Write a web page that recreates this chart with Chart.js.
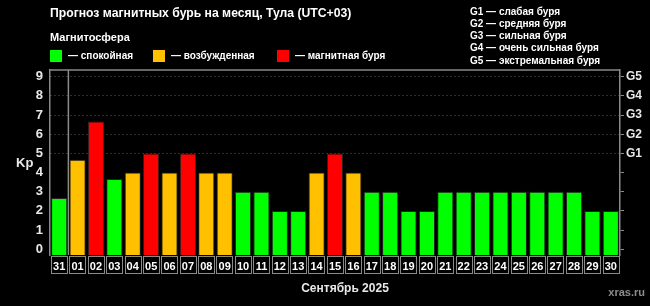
<!DOCTYPE html>
<html>
<head>
<meta charset="utf-8">
<script src="https://cdn.jsdelivr.net/npm/chart.js@4/dist/chart.umd.min.js"></script>
<style>
  html, body { margin: 0; padding: 0; background: #000; }
  #wrap { width: 650px; height: 306px; }
</style>
</head>
<body>
<div id="wrap"><canvas id="kp" width="650" height="306"></canvas></div>
<script>
// --- data ---
const days = ['31','01','02','03','04','05','06','07','08','09','10','11','12','13','14','15',
              '16','17','18','19','20','21','22','23','24','25','26','27','28','29','30'];
const kpValues = [2.67, 4.67, 6.67, 3.67, 4, 5, 4, 5, 4, 4, 3, 3, 2, 2, 4, 5,
                  4, 3, 3, 2, 2, 3, 3, 3, 3, 3, 3, 3, 3, 2, 2];
const kpTicks = [0, 1, 2, 3, 4, 5, 6, 7, 8, 9];
const gLabels = ['G1', 'G2', 'G3', 'G4', 'G5'];
const gLegend = ['G1 — слабая буря', 'G2 — средняя буря', 'G3 — сильная буря',
                 'G4 — очень сильная буря', 'G5 — экстремальная буря'];
const stateLegend = ['— спокойная', '— возбужденная', '— магнитная буря'];

const Y_MIN = -0.3, Y_MAX = 9.35;
const GREEN = '#00ff00', ORANGE = '#ffc000', RED = '#ff0000';
const FRAME = '#8a8a8a';
const FONT = '"Liberation Sans", Arial, sans-serif';

// bar colour by Kp level
const colorFor = v => v >= 5 ? RED : (v >= 4 ? ORANGE : GREEN);

const decorPlugin = {
    id: 'decor',
    beforeDatasetsDraw: (chart) => {
        const { ctx, chartArea: a, scales: { x } } = chart;
        ctx.save();
        // separator between previous month and current one
        const sx = (x.getPixelForValue(0) + x.getPixelForValue(1)) / 2;
        ctx.strokeStyle = FRAME;
        ctx.lineWidth = 1.5;
        ctx.beginPath();
        ctx.moveTo(sx, a.top);
        ctx.lineTo(sx, a.bottom);
        ctx.stroke();
        ctx.restore();
    },
    afterDraw: (chart) => {
        const { ctx, chartArea: a, scales: { x } } = chart;
        ctx.save();
        // top frame line
        ctx.strokeStyle = FRAME;
        ctx.lineWidth = 1.5;
        ctx.beginPath();
        ctx.moveTo(a.left, a.top);
        ctx.lineTo(a.right, a.top);
        ctx.stroke();

        // boxes round day labels
        const slot = x.getPixelForValue(1) - x.getPixelForValue(0);
        ctx.lineWidth = 1;
        days.forEach((d, i) => {
            const cx = x.getPixelForValue(i);
            ctx.strokeRect(Math.round(cx - slot / 2) + 1.5, a.bottom + 1.5, Math.round(slot) - 2, 17);
        });

        // header texts
        ctx.fillStyle = '#ffffff';
        ctx.textBaseline = 'middle';
        ctx.textAlign = 'left';
        ctx.font = 'bold 12.2px ' + FONT;
        ctx.fillText('Прогноз магнитных бурь на месяц, Тула (UTC+03)', 50, 14);
        ctx.font = 'bold 11px ' + FONT;
        ctx.fillText('Магнитосфера', 50, 38);

        ctx.font = 'bold 10px ' + FONT;
        const swatchX = [50, 153, 277];
        const swatchC = [GREEN, ORANGE, RED];
        stateLegend.forEach((t, i) => {
            ctx.fillStyle = swatchC[i];
            ctx.fillRect(swatchX[i], 50, 12, 12);
            ctx.fillStyle = '#ffffff';
            ctx.fillText(t, swatchX[i] + 18, 56.5);
        });

        gLegend.forEach((t, i) => {
            ctx.fillText(t, 470, 12 + i * 12.2);
        });

        // axis captions
        ctx.font = 'bold 13px ' + FONT;
        ctx.fillStyle = '#e8e8e8';
        ctx.fillText('Kp', 16, 163);
        ctx.font = 'bold 12px ' + FONT;
        ctx.textAlign = 'center';
        ctx.fillText('Сентябрь 2025', 345, 289);
        ctx.font = 'bold 11px ' + FONT;
        ctx.fillStyle = '#8c8c8c';
        ctx.textAlign = 'right';
        ctx.fillText('xras.ru', 645, 293);
        ctx.restore();
    }
};

const fixTicks = (scale) => { scale.ticks = kpTicks.map(v => ({ value: v })); };

new Chart(document.getElementById('kp'), {
    type: 'bar',
    data: {
        labels: days,
        datasets: [{
            data: kpValues,
            base: Y_MIN,
            backgroundColor: kpValues.map(colorFor),
            borderColor: 'rgba(40,40,40,0.9)',
            borderWidth: 1,
            barPercentage: 0.88,
            categoryPercentage: 1.0
        }]
    },
    options: {
        responsive: false,
        animation: false,
        layout: { padding: { top: 70, left: 0, right: 0, bottom: 0 } },
        plugins: { legend: { display: false }, tooltip: { enabled: false } },
        scales: {
            x: {
                afterFit: (s) => { s.height = 51; },
                grid: { display: false, drawTicks: false },
                border: { display: false },
                ticks: {
                    autoSkip: false, maxRotation: 0, padding: 5,
                    color: '#ffffff',
                    font: { family: FONT, size: 11, weight: 'bold' }
                }
            },
            y: {
                min: Y_MIN, max: Y_MAX,
                afterFit: (s) => { s.width = 50; },
                afterBuildTicks: fixTicks,
                grid: {
                    drawTicks: false,
                    lineWidth: 1,
                    color: (c) => (c.tick && c.tick.value >= 5) ? '#5a5a5a' : 'rgba(0,0,0,0)'
                },
                border: { color: FRAME, width: 1.5, dash: [1, 3] },
                ticks: {
                    padding: 7,
                    color: '#e8e8e8',
                    font: { family: FONT, size: 13, weight: 'bold' }
                }
            },
            y2: {
                position: 'right',
                min: Y_MIN, max: Y_MAX,
                afterFit: (s) => { s.width = 30; },
                afterBuildTicks: fixTicks,
                grid: { drawOnChartArea: false, drawTicks: true, tickLength: 4, tickColor: FRAME },
                border: { color: FRAME, width: 1.5 },
                ticks: {
                    padding: 2,
                    color: '#e8e8e8',
                    font: { family: FONT, size: 12, weight: 'bold' },
                    callback: (v) => v >= 5 ? gLabels[v - 5] : ''
                }
            }
        }
    },
    plugins: [decorPlugin]
});
</script>
</body>
</html>
